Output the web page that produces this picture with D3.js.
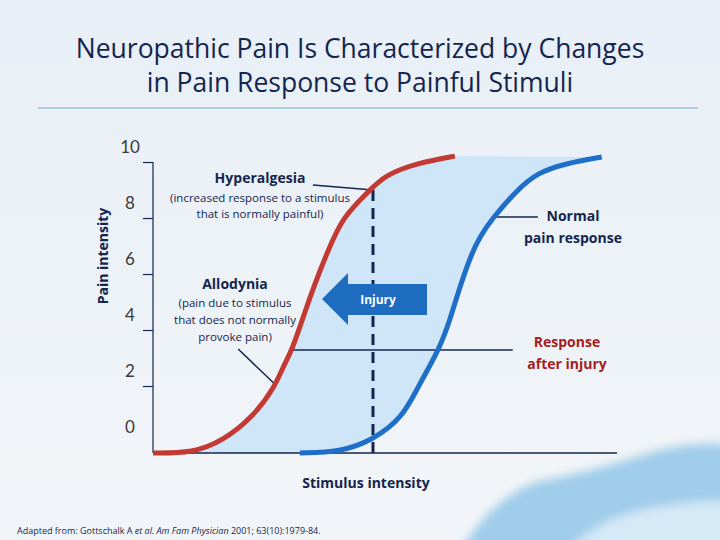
<!DOCTYPE html>
<html>
<head>
<meta charset="utf-8">
<script src="https://cdn.jsdelivr.net/npm/d3@7"></script>
<style>
  body { margin: 0; background: #eef3f8; }
  svg { display: block; font-family: "Open Sans", "Noto Sans", sans-serif; }
</style>
</head>
<body>
<div id="chart"></div>
<script>
// stimulus intensity (arbitrary units) / pain intensity (0-10)
var afterInjuryX = [0, 7.3, 12.8, 18.3, 22.3, 23.8, 25.5, 27.5, 29.7, 32.1, 34.8, 39.2, 42.5, 48.4, 55.3]
var afterInjuryY = [-0.39, -0.39, 0.04, 0.89, 1.96, 2.68, 3.29, 4.46, 5.68, 6.86, 8.04, 8.89, 9.54, 9.96, 10.21]
var normalX = [26.9, 34.3, 40.3, 45.8, 48.5, 52.4, 54.4, 56.2, 58.4, 59.9, 61.9, 66.7, 70.3, 75.8, 82.2]
var normalY = [-0.39, -0.36, 0.07, 0.89, 1.96, 3.29, 4.36, 5.54, 6.75, 7.32, 7.93, 9.0, 9.61, 9.96, 10.18]
var yTicks = [0, 2, 4, 6, 8, 10]
var yFloor = -0.39
var injuryX = 40.3
var injuryTopY = 9.0

var W = 720, H = 540
var navy = '#14264f'

var svg = d3.select('#chart').append('svg')
	.attr('width', W)
	.attr('height', H)

var defs = svg.append('defs')
var bg = defs.append('linearGradient').attr('id', 'bg').attr('x1', 0).attr('y1', 0).attr('x2', 0).attr('y2', 1)
bg.append('stop').attr('offset', '0%').attr('stop-color', '#e8eff6')
bg.append('stop').attr('offset', '100%').attr('stop-color', '#f2f5f8')
defs.append('filter').attr('id', 'blur').attr('x', '-20%').attr('y', '-50%').attr('width', '140%').attr('height', '200%')
	.append('feGaussianBlur').attr('stdDeviation', 5)

svg.append('rect').attr('width', W).attr('height', H).attr('fill', 'url(#bg)')

// watercolour swoosh, bottom right
var swoosh = svg.append('g').attr('filter', 'url(#blur)')
swoosh.append('path')
	.attr('d', 'M455,560 C480,515 510,488 545,480 C590,472 625,460 660,450 C690,443 712,442 740,446 L740,560 Z')
	.attr('fill', '#92c6e8').attr('opacity', 0.85)
swoosh.append('path')
	.attr('d', 'M560,560 C585,528 620,512 665,506 C695,502 715,500 740,502 L740,560 Z')
	.attr('fill', '#dcedf8').attr('opacity', 0.9)

// title
var title = svg.append('text')
	.attr('text-anchor', 'middle')
	.attr('fill', navy)
	.style('font-size', '26.5px')
title.append('tspan').attr('x', 360).attr('y', 58).text('Neuropathic Pain Is Characterized by Changes')
title.append('tspan').attr('x', 360).attr('y', 92).text('in Pain Response to Painful Stimuli')

svg.append('line')
	.attr('x1', 38).attr('x2', 698).attr('y1', 108).attr('y2', 108)
	.attr('stroke', '#a9cfdf').attr('stroke-width', 2)

var xScale = d3.scaleLinear().domain([0, 85]).range([153, 617])
var yScale = d3.scaleLinear().domain([0, 10]).range([442, 162])

var red = afterInjuryX.map(function(x, i) { return [x, afterInjuryY[i]] })
var blue = normalX.map(function(x, i) { return [x, normalY[i]] })
var plateau = d3.max(normalY)

var lineGen = d3.line()
	.x(function(d) { return xScale(d[0]) })
	.y(function(d) { return yScale(d[1]) })
	.curve(d3.curveBasis)

// shaded region between the two curves
var redPath = lineGen(red)
var bluePath = lineGen(blue.slice().reverse())
var fillD = redPath +
	'L' + xScale(blue[blue.length - 1][0]) + ',' + yScale(plateau) +
	'L' + bluePath.slice(1) + 'Z'
svg.append('path').attr('d', fillD).attr('fill', '#cfe6f8')

// axes
var yAxis = d3.axisLeft(yScale).tickValues(yTicks).tickSize(10).tickFormat(d3.format('d'))
var yg = svg.append('g')
	.attr('transform', 'translate(' + xScale(0) + ',0)')
	.call(yAxis)
yg.select('.domain').remove()
yg.selectAll('.tick line').attr('stroke', navy).attr('stroke-width', 1.2)
	.filter(function(d) { return d === 0 }).remove()
yg.selectAll('.tick text')
	.attr('x', -23).attr('dy', '-0.55em').attr('text-anchor', 'middle')
	.attr('fill', '#3a3a3a').style('font-size', '17px').style('font-family', 'Lato, sans-serif')
svg.append('line')
	.attr('x1', xScale(0)).attr('x2', xScale(0))
	.attr('y1', yScale(10)).attr('y2', yScale(yFloor))
	.attr('stroke', navy).attr('stroke-width', 1.2)
svg.append('line')
	.attr('x1', xScale(0)).attr('x2', xScale(85))
	.attr('y1', yScale(yFloor)).attr('y2', yScale(yFloor))
	.attr('stroke', navy).attr('stroke-width', 1.5)

svg.append('text')
	.attr('transform', 'translate(108,256) rotate(-90)')
	.attr('text-anchor', 'middle')
	.attr('fill', navy).style('font-weight', 'bold').style('font-size', '14px')
	.text('Pain intensity')
svg.append('text')
	.attr('x', 366).attr('y', 488)
	.attr('text-anchor', 'middle')
	.attr('fill', navy).style('font-weight', 'bold').style('font-size', '14px')
	.text('Stimulus intensity')

// leader lines
var leaders = [
	[[29.3, 9.18], [injuryX, injuryTopY]],
	[[15.6, 3.32], [22.3, 2.07]],
	[[25.5, 3.29], [65.9, 3.29]],
	[[63.0, 8.04], [70.5, 8.04]]
]
svg.selectAll('.leader').data(leaders)
	.enter().append('line')
	.attr('class', 'leader')
	.attr('x1', function(d) { return xScale(d[0][0]) })
	.attr('y1', function(d) { return yScale(d[0][1]) })
	.attr('x2', function(d) { return xScale(d[1][0]) })
	.attr('y2', function(d) { return yScale(d[1][1]) })
	.attr('stroke', navy).attr('stroke-width', 1.5)

// injury dashed line
svg.append('line')
	.attr('x1', xScale(injuryX)).attr('x2', xScale(injuryX))
	.attr('y1', yScale(injuryTopY)).attr('y2', yScale(yFloor))
	.attr('stroke', navy).attr('stroke-width', 3)
	.attr('stroke-dasharray', '11,7')

// curves
svg.append('path').attr('d', lineGen(red))
	.attr('fill', 'none').attr('stroke', '#c23a33').attr('stroke-width', 5)
svg.append('path').attr('d', lineGen(blue))
	.attr('fill', 'none').attr('stroke', '#1f6fc8').attr('stroke-width', 5)

// injury arrow
svg.append('path')
	.attr('d', 'M322,299 L348,273 L348,284 L427,284 L427,315 L348,315 L348,325 Z')
	.attr('fill', '#1e6cc0')
svg.append('text')
	.attr('x', 378).attr('y', 304)
	.attr('text-anchor', 'middle').attr('fill', '#fff')
	.style('font-weight', 'bold').style('font-size', '12px')
	.text('Injury')

function label(x, y, lines, color) {
	var t = svg.append('text').attr('text-anchor', 'middle').attr('fill', color || navy)
	lines.forEach(function(l, i) {
		t.append('tspan').attr('x', x).attr('y', y + l[1])
			.style('font-weight', l[2] ? 'bold' : 'normal')
			.style('font-size', l[2] ? '14px' : '11.5px')
			.text(l[0])
	})
}
label(260, 183, [['Hyperalgesia', 0, true], ['(increased response to a stimulus', 19], ['that is normally painful)', 35]])
label(235, 289, [['Allodynia', 0, true], ['(pain due to  stimulus', 18], ['that does not normally', 35], ['provoke pain)', 52]])
label(573, 221, [['Normal', 0, true], ['pain response', 22, true]])
label(567, 347, [['Response', 0, true], ['after injury', 22, true]], '#a51d1d')

// footnote
var foot = svg.append('text').attr('x', 17).attr('y', 534)
	.attr('fill', navy).style('font-size', '9px')
foot.append('tspan').text('Adapted from: Gottschalk A ')
foot.append('tspan').style('font-style', 'italic').text('et al. Am Fam Physician')
foot.append('tspan').text(' 2001; 63(10):1979-84.')
</script>
</body>
</html>
